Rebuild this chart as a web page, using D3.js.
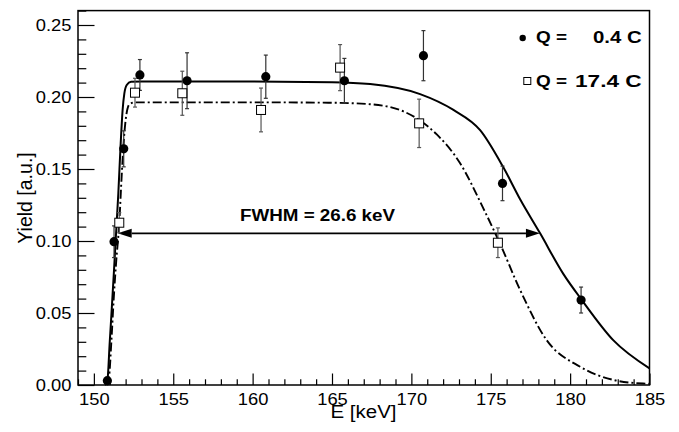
<!DOCTYPE html>
<html>
<head>
<meta charset="utf-8">
<script src="https://cdn.jsdelivr.net/npm/d3@7"></script>
<style>
  html, body { margin: 0; padding: 0; background: #fff; }
  svg { display: block; }
  text { font-family: "Liberation Sans", Arial, Helvetica, sans-serif; fill: #000; }
</style>
</head>
<body>
<svg id="chart" width="679" height="432"></svg>
<script>
// ---- Data ----
const xDomain = [149, 185];
const yDomain = [0, 0.26];
const xTicks = [150, 155, 160, 165, 170, 175, 180, 185];
const yTicks = [0.00, 0.05, 0.10, 0.15, 0.20, 0.25];

// Q = 0.4 C (filled circles)
const lowQ_E   = [150.85, 151.27, 151.88, 152.90, 155.87, 160.83, 165.78, 170.76, 175.74, 180.69];
const lowQ_Y   = [0.003, 0.0995, 0.164, 0.2153, 0.2113, 0.2141, 0.2113, 0.2287, 0.140, 0.059];
const lowQ_Err = [0.002, 0.011, 0.0125, 0.0107, 0.0194, 0.0150, 0.0155, 0.0174, 0.012, 0.009];

// Q = 17.4 C (open squares)
const highQ_E   = [151.60, 152.59, 155.57, 160.53, 165.51, 170.49, 175.45];
const highQ_Y   = [0.1127, 0.203, 0.2026, 0.191, 0.2204, 0.1817, 0.0988];
const highQ_Err = [0.007, 0.010, 0.0153, 0.0152, 0.016, 0.0168, 0.0103];

// Fit curves
const fitLow_E = [150.70, 150.85, 151.00, 151.10, 151.27, 151.37, 151.54, 151.69, 151.81, 151.92, 152.07, 152.34, 153.0, 160.0, 165.0, 167.4, 170.55, 172.65, 174.33, 175.80, 176.85, 178.11, 179.58, 180.74, 182.73, 185.0];
const fitLow_Y = [0.000, 0.003, 0.030, 0.048, 0.080, 0.100, 0.133, 0.168, 0.191, 0.2025, 0.2083, 0.2106, 0.2108, 0.2108, 0.2103, 0.209, 0.202, 0.191, 0.177, 0.151, 0.129, 0.1053, 0.077, 0.059, 0.031, 0.0116];

const fitHigh_E = [150.80, 150.95, 151.10, 151.25, 151.40, 151.60, 151.75, 151.90, 152.05, 152.25, 152.60, 160.0, 165.0, 167.4, 169.5, 170.5, 171.6, 173.07, 174.54, 175.59, 176.85, 178.53, 180.63, 182.73, 184.6, 185.0];
const fitHigh_Y = [0.000, 0.005, 0.030, 0.060, 0.085, 0.1127, 0.145, 0.172, 0.188, 0.195, 0.1963, 0.1963, 0.196, 0.195, 0.190, 0.184, 0.174, 0.154, 0.1225, 0.098, 0.066, 0.031, 0.0127, 0.0035, 0.001, 0.0008];

// FWHM arrow
const fwhmE = [151.5, 178.1];
const fwhmY = 0.1053;
const fwhmLabel = "FWHM = 26.6 keV";

const legendLabels = [["Q =", "0.4 C"], ["Q =", "17.4 C"]];

// ---- Layout ----
const svg = d3.select("#chart");
const L = 78, R = 649.5, T = 10.6, B = 385;
const x = d3.scaleLinear().domain(xDomain).range([L, R]);
const y = d3.scaleLinear().domain(yDomain).range([B, T]);

// Curves
const line = d3.line().x(d => x(d[0])).y(d => y(d[1])).curve(d3.curveMonotoneX);
svg.append("path")
  .datum(fitHigh_E.map((e, i) => [e, fitHigh_Y[i]]))
  .attr("d", line).attr("fill", "none").attr("stroke", "#000")
  .attr("stroke-width", 1.9).attr("stroke-dasharray", "9,3,2,3");
svg.append("path")
  .datum(fitLow_E.map((e, i) => [e, fitLow_Y[i]]))
  .attr("d", line).attr("fill", "none").attr("stroke", "#000")
  .attr("stroke-width", 2);

// FWHM arrow
const ay = y(fwhmY), ax0 = x(fwhmE[0]), ax1 = x(fwhmE[1]);
const headL = 14, headH = 4.5;
svg.append("line").attr("x1", ax0 + headL).attr("x2", ax1 - headL)
  .attr("y1", ay).attr("y2", ay).attr("stroke", "#000").attr("stroke-width", 1.6);
svg.append("path").attr("d", `M${ax0},${ay} L${ax0 + headL},${ay - headH} L${ax0 + headL},${ay + headH} Z`).attr("fill", "#000");
svg.append("path").attr("d", `M${ax1},${ay} L${ax1 - headL},${ay - headH} L${ax1 - headL},${ay + headH} Z`).attr("fill", "#000");
svg.append("text").attr("x", 240).attr("y", 221)
  .attr("font-size", 16).attr("font-weight", "bold")
  .attr("textLength", 155).attr("lengthAdjust", "spacingAndGlyphs")
  .text(fwhmLabel);

// Error bars
function errorBars(E, Y, Err, color) {
  const g = svg.append("g").attr("stroke", color).attr("stroke-width", 1.2);
  E.forEach((e, i) => {
    const cx = x(e), y1 = y(Y[i] - Err[i]), y2 = y(Y[i] + Err[i]);
    g.append("line").attr("x1", cx).attr("x2", cx).attr("y1", y1).attr("y2", y2);
    g.append("line").attr("x1", cx - 2).attr("x2", cx + 2).attr("y1", y1).attr("y2", y1);
    g.append("line").attr("x1", cx - 2).attr("x2", cx + 2).attr("y1", y2).attr("y2", y2);
  });
}
errorBars(highQ_E, highQ_Y, highQ_Err, "#555");
errorBars(lowQ_E, lowQ_Y, lowQ_Err, "#333");

// Markers
svg.append("g").selectAll("rect").data(highQ_E.map((e, i) => [e, highQ_Y[i]])).join("rect")
  .attr("x", d => x(d[0]) - 4.5).attr("y", d => y(d[1]) - 4.5)
  .attr("width", 9).attr("height", 9)
  .attr("fill", "#fff").attr("stroke", "#000").attr("stroke-width", 1);
svg.append("g").selectAll("circle").data(lowQ_E.map((e, i) => [e, lowQ_Y[i]])).join("circle")
  .attr("cx", d => x(d[0])).attr("cy", d => y(d[1])).attr("r", 4.6).attr("fill", "#000");

// Axes (inward ticks)
const xAxisMajor = d3.axisBottom(x).tickValues(xTicks).tickSizeInner(-11.5).tickSizeOuter(0)
  .tickPadding(8).tickFormat(d3.format("d"));
const xAxisMinor = d3.axisBottom(x).tickValues(d3.range(149, 186, 1).filter(v => v % 5 !== 0))
  .tickSizeInner(-5.7).tickSizeOuter(0).tickFormat("");
const yAxisMajor = d3.axisLeft(y).tickValues(yTicks).tickSizeInner(-16.5).tickSizeOuter(0)
  .tickPadding(6).tickFormat(d3.format(".2f"));
const yAxisMinor = d3.axisLeft(y).tickValues(d3.range(0, 0.2601, 0.01).filter((v, i) => i % 5 !== 0))
  .tickSizeInner(-8.3).tickSizeOuter(0).tickFormat("");

function styleAxis(g) {
  g.select(".domain").remove();
  g.selectAll(".tick line").attr("stroke", "#000").attr("stroke-width", 1.2);
  g.selectAll("text").attr("font-size", 17)
    .style("font-family", '"Liberation Sans", Arial, sans-serif').attr("fill", "#000");
}
svg.append("g").attr("transform", `translate(0,${B})`).call(xAxisMinor).call(styleAxis);
const gx = svg.append("g").attr("transform", `translate(0,${B})`).call(xAxisMajor).call(styleAxis);
gx.selectAll("text").attr("transform", "scale(1.08,1)");
svg.append("g").attr("transform", `translate(${L},0)`).call(yAxisMinor).call(styleAxis);
const gy = svg.append("g").attr("transform", `translate(${L},0)`).call(yAxisMajor).call(styleAxis);
gy.selectAll("text").attr("transform", "scale(1.08,1)");

// Frame
svg.append("rect").attr("x", L).attr("y", T).attr("width", R - L).attr("height", B - T)
  .attr("fill", "none").attr("stroke", "#000").attr("stroke-width", 1.5);

// Axis titles
svg.append("text").attr("x", 363.5).attr("y", 418).attr("text-anchor", "middle")
  .attr("font-size", 17.5).attr("textLength", 66).attr("lengthAdjust", "spacingAndGlyphs")
  .text("E [keV]");
svg.append("text").attr("transform", "translate(32,198) rotate(-90)").attr("text-anchor", "middle")
  .attr("font-size", 19.5).text("Yield [a.u.]");

// Legend
const lg = svg.append("g");
lg.append("circle").attr("cx", 522.7).attr("cy", 38).attr("r", 3.2).attr("fill", "#000");
lg.append("rect").attr("x", 523.8).attr("y", 77.5).attr("width", 7).attr("height", 7)
  .attr("fill", "#fff").attr("stroke", "#000").attr("stroke-width", 1);
const rowsY = [43.3, 87.3];
const valStart = [593, 575];
legendLabels.forEach((lab, i) => {
  lg.append("text").attr("x", 536).attr("y", rowsY[i]).attr("font-size", 16).attr("font-weight", "bold")
    .attr("textLength", 31).attr("lengthAdjust", "spacingAndGlyphs").text(lab[0]);
  lg.append("text").attr("x", valStart[i]).attr("y", rowsY[i]).attr("font-size", 16).attr("font-weight", "bold")
    .attr("textLength", 641.7 - valStart[i]).attr("lengthAdjust", "spacingAndGlyphs").text(lab[1]);
});
</script>
</body>
</html>
